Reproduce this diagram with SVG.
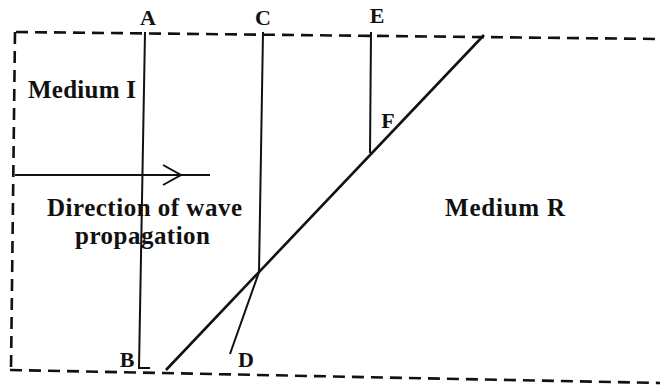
<svg xmlns="http://www.w3.org/2000/svg" width="660" height="385" viewBox="0 0 660 385">
<style>
.t{font-family:"Liberation Serif","Times New Roman",serif;font-weight:bold;fill:#111}
.b{stroke:#111;stroke-width:2.6;fill:none;stroke-dasharray:12 7}
.l{stroke:#111;stroke-width:2;fill:none}
.s{stroke:#111;stroke-width:2.6;fill:none}
</style>
<rect width="660" height="385" fill="#fff"/>
<g id="boundary">
<path class="b" d="M16,32 L660,39"/>
<path class="b" d="M15,32 L11,370"/>
<path class="b" d="M10,370 L660,383"/>
</g>
<g id="connectors">
<path class="l" d="M145,32 L139,368 L150,368"/>
<path class="l" d="M263,32 L259,272 L230,354"/>
<path class="l" d="M371,32 L370,153"/>
<path class="s" d="M484,35 L166,370"/>
<path class="l" d="M15,175 L210,175"/>
<path class="l" d="M163,165 L181,175 L163,185"/>
</g>
<g id="labels">
<text class="t" x="148" y="25" font-size="22" text-anchor="middle">A</text>
<text class="t" x="263" y="25" font-size="22" text-anchor="middle">C</text>
<text class="t" x="377" y="23" font-size="22" text-anchor="middle">E</text>
<text class="t" x="388" y="128" font-size="22" text-anchor="middle">F</text>
<text class="t" x="127" y="367" font-size="22" text-anchor="middle">B</text>
<text class="t" x="246" y="367" font-size="22" text-anchor="middle">D</text>
<text class="t" x="28" y="98" font-size="25" textLength="108">Medium I</text>
<text class="t" x="47" y="216" font-size="25" textLength="195">Direction of wave</text>
<text class="t" x="75" y="244" font-size="25" textLength="135">propagation</text>
<text class="t" x="445" y="216" font-size="25" textLength="120">Medium R</text>
</g>
</svg>
